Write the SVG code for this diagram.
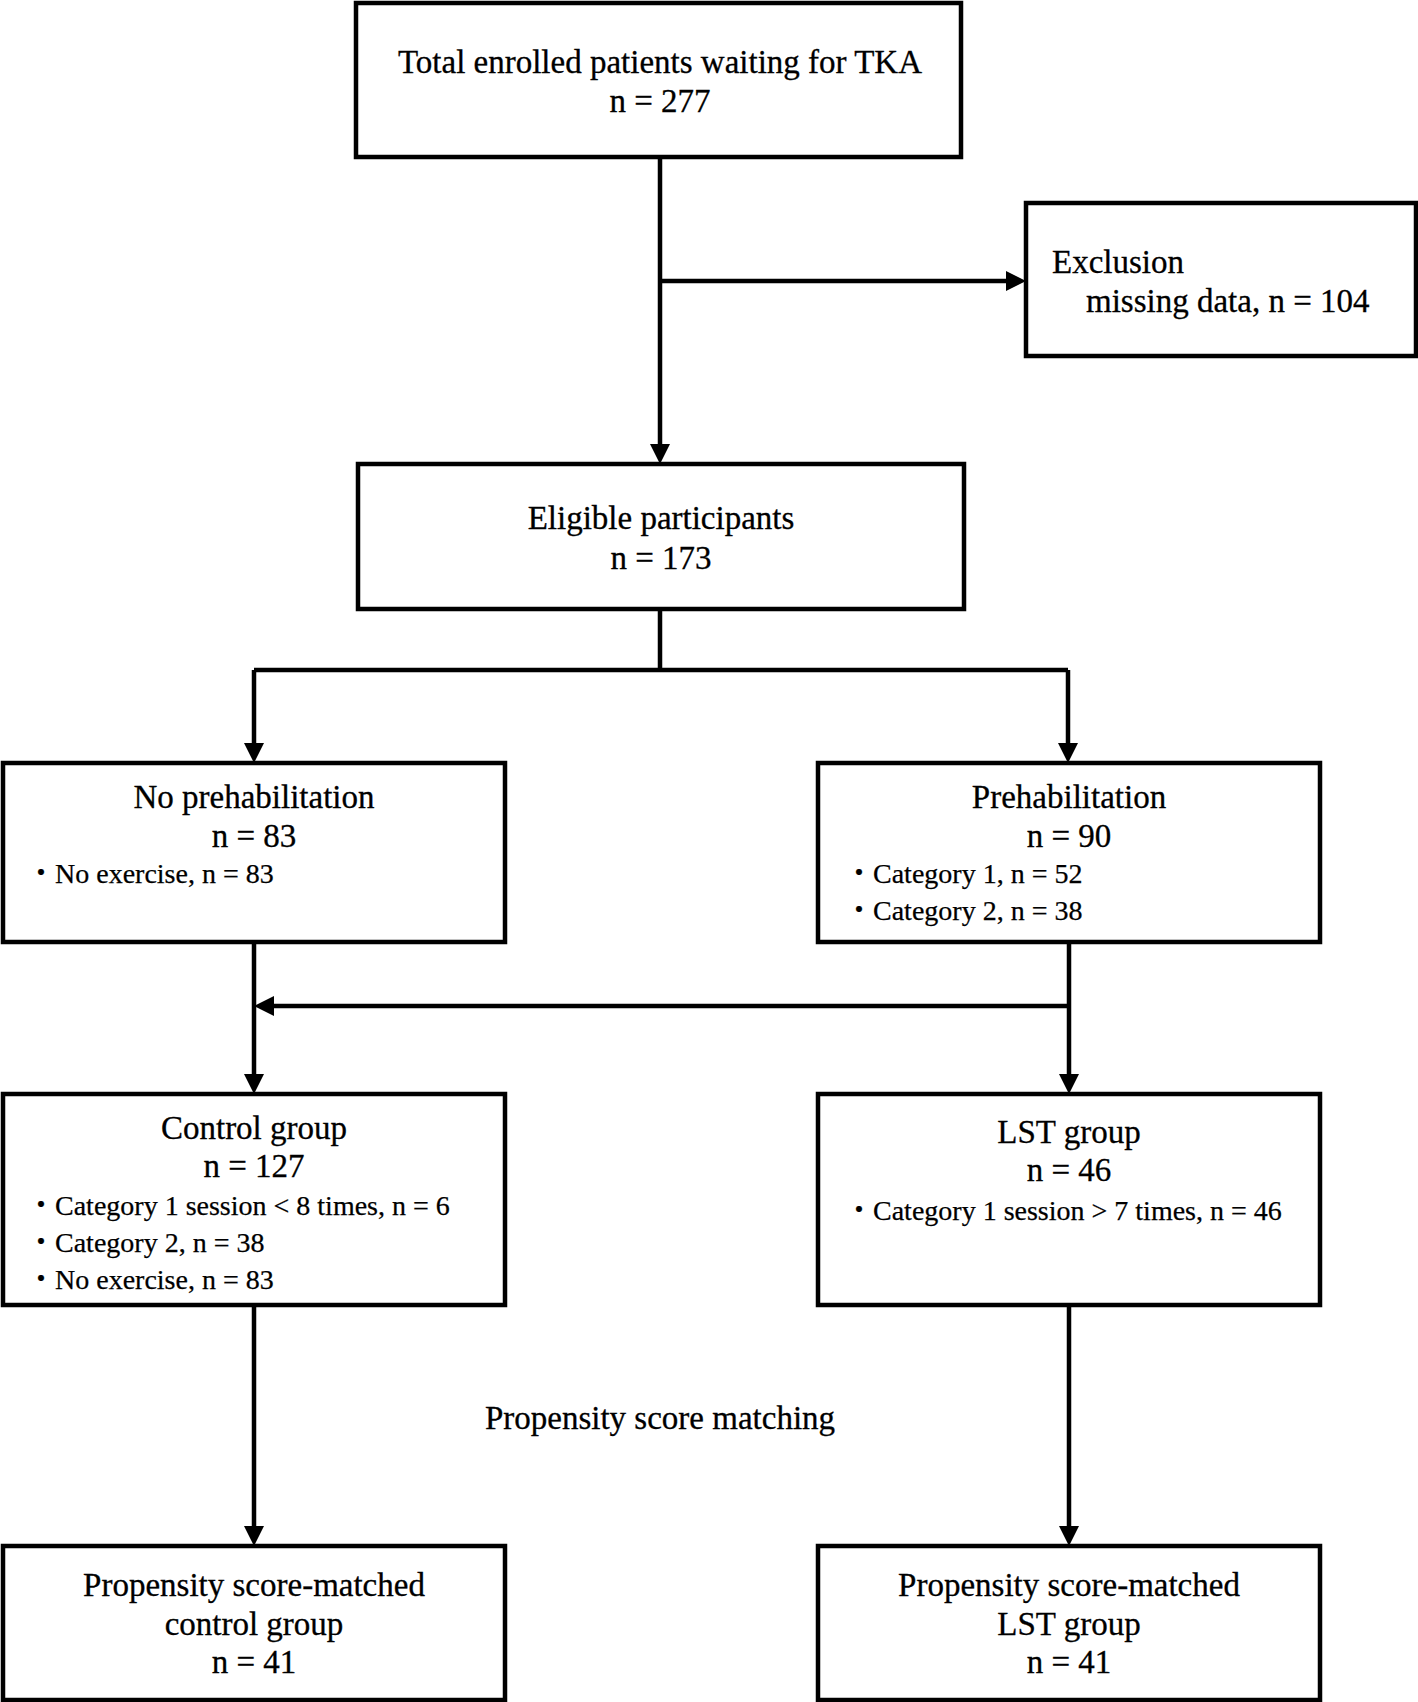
<svg xmlns="http://www.w3.org/2000/svg" width="1418" height="1702" viewBox="0 0 1418 1702">
<style>
.box{fill:#fff;stroke:#000;stroke-width:4.5}
.ln{fill:none;stroke:#000;stroke-width:4.5}
.t{font-family:"Liberation Serif","Noto Sans CJK JP",serif;font-size:33px;fill:#000;stroke:#000;stroke-width:0.3}
.c{text-anchor:middle}
.b{font-family:"Liberation Serif","Noto Sans CJK JP",serif;font-size:28px;fill:#000;stroke:#000;stroke-width:0.25}
</style>
<defs>
<marker id="ah" markerUnits="userSpaceOnUse" markerWidth="20" markerHeight="20" refX="8" refY="10" orient="auto">
<path d="M0,0 L20,10 L0,20 z" fill="#000"/>
</marker>
</defs>
<rect width="1418" height="1702" fill="#fff"/>
<g id="connectors">
<path class="ln" d="M660,157 V452" marker-end="url(#ah)"/>
<path class="ln" d="M660,281 H1014" marker-end="url(#ah)"/>
<path class="ln" d="M660,609 V670 M254,670 H1068"/>
<path class="ln" d="M254,670 V751" marker-end="url(#ah)"/>
<path class="ln" d="M1068,670 V751" marker-end="url(#ah)"/>
<path class="ln" d="M254,942 V1082" marker-end="url(#ah)"/>
<path class="ln" d="M1069,942 V1082" marker-end="url(#ah)"/>
<path class="ln" d="M1069,1006 H266" marker-end="url(#ah)"/>
<path class="ln" d="M254,1305 V1534" marker-end="url(#ah)"/>
<path class="ln" d="M1069,1305 V1534" marker-end="url(#ah)"/>
</g>
<g id="total">
<rect class="box" x="356" y="3" width="605" height="154"/>
<text class="t c" x="660" y="73">Total enrolled patients waiting for TKA</text>
<text class="t c" x="660" y="112">n = 277</text>
</g>
<g id="exclusion">
<rect class="box" x="1026" y="203" width="390" height="153"/>
<text class="t" x="1052" y="273">Exclusion</text>
<text class="t" x="1086" y="312">missing data, n = 104</text>
</g>
<g id="eligible">
<rect class="box" x="358" y="464" width="606" height="145"/>
<text class="t c" x="661" y="529">Eligible participants</text>
<text class="t c" x="661" y="569">n = 173</text>
</g>
<g id="noprehab">
<rect class="box" x="3" y="763" width="502" height="179"/>
<text class="t c" x="254" y="808">No prehabilitation</text>
<text class="t c" x="254" y="847">n = 83</text>
<text class="b" x="27" y="883">・No exercise, n = 83</text>
</g>
<g id="prehab">
<rect class="box" x="818" y="763" width="502" height="179"/>
<text class="t c" x="1069" y="808">Prehabilitation</text>
<text class="t c" x="1069" y="847">n = 90</text>
<text class="b" x="845" y="883">・Category 1, n = 52</text>
<text class="b" x="845" y="920">・Category 2, n = 38</text>
</g>
<g id="control">
<rect class="box" x="3" y="1094" width="502" height="211"/>
<text class="t c" x="254" y="1139">Control group</text>
<text class="t c" x="254" y="1177">n = 127</text>
<text class="b" x="27" y="1215">・Category 1 session &lt; 8 times, n = 6</text>
<text class="b" x="27" y="1252">・Category 2, n = 38</text>
<text class="b" x="27" y="1289">・No exercise, n = 83</text>
</g>
<g id="lst">
<rect class="box" x="818" y="1094" width="502" height="211"/>
<text class="t c" x="1069" y="1143">LST group</text>
<text class="t c" x="1069" y="1181">n = 46</text>
<text class="b" x="845" y="1220">・Category 1 session &gt; 7 times, n = 46</text>
</g>
<g id="psm-label">
<text class="t c" x="660" y="1429">Propensity score matching</text>
</g>
<g id="psm-control">
<rect class="box" x="3" y="1546" width="502" height="154"/>
<text class="t c" x="254" y="1596">Propensity score-matched</text>
<text class="t c" x="254" y="1635">control group</text>
<text class="t c" x="254" y="1673">n = 41</text>
</g>
<g id="psm-lst">
<rect class="box" x="818" y="1546" width="502" height="154"/>
<text class="t c" x="1069" y="1596">Propensity score-matched</text>
<text class="t c" x="1069" y="1635">LST group</text>
<text class="t c" x="1069" y="1673">n = 41</text>
</g>
</svg>
